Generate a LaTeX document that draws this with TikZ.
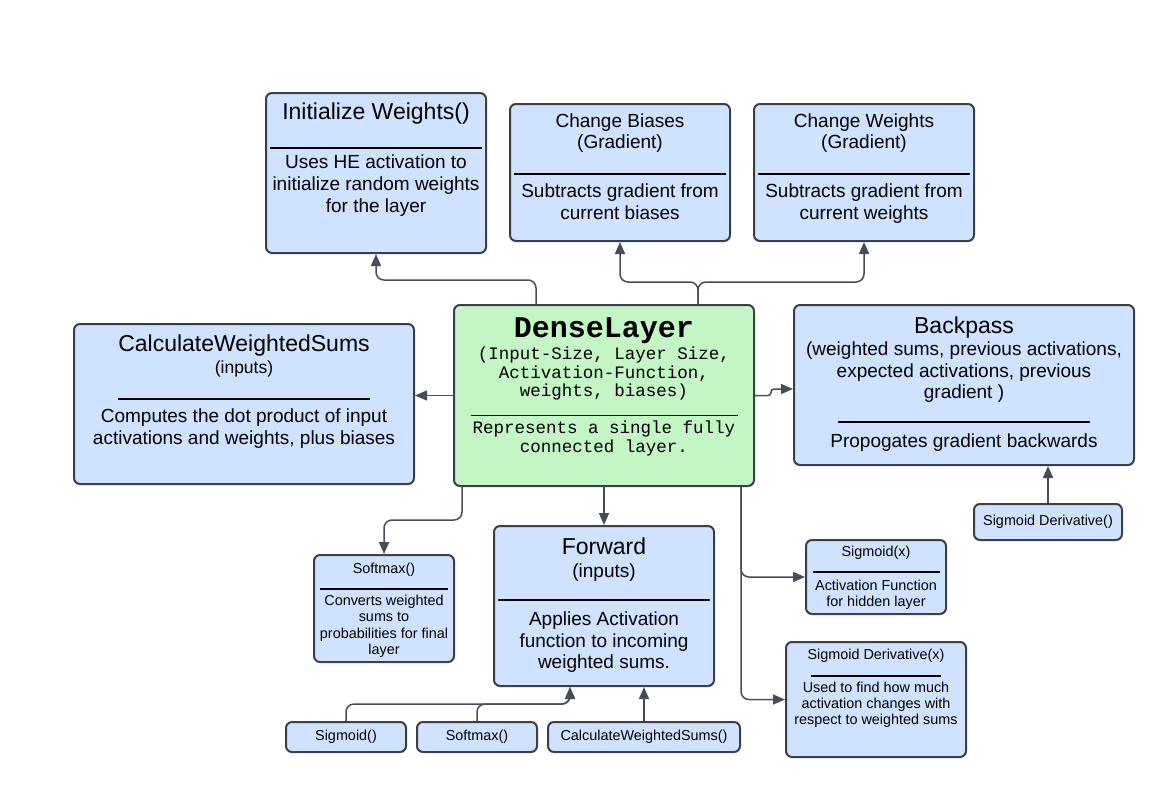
\documentclass[tikz,border=0pt]{standalone}
\usepackage{fontspec}
\setmainfont{Liberation Sans}
\setmonofont{Liberation Mono}
\usetikzlibrary{arrows.meta}
\definecolor{boxblue}{HTML}{CFE2FF}
\definecolor{boxgreen}{HTML}{C3F5C5}
\definecolor{edge}{HTML}{3B4048}
\definecolor{wire}{HTML}{474D57}
\newcommand{\cellbox}[3]{\parbox[c][#2pt][t]{#1pt}{\centering #3\par}}
\newcommand{\sepline}[1]{\rule{#1pt}{2pt}}
\newcommand{\bigtxt}{\fontsize{23}{27}\selectfont}
\newcommand{\smalltxt}{\fontsize{14.4}{16}\selectfont}
\tikzset{
    box/.style={draw=edge, line width=2pt, fill=boxblue, rounded corners=6pt, inner sep=0pt, font=\fontsize{19}{22}\selectfont},
    smallbox/.style={box, font=\smalltxt, minimum height=30pt},
    link/.style={draw=wire, line width=1.5pt, rounded corners=8pt, -{Triangle[length=12pt,width=10pt]}}
}
\begin{document}
\begin{tikzpicture}[x=1pt, y=-1pt]
        \useasboundingbox (0,0) rectangle (1175,804);
        \node[box] (initw) at (376,173) {\cellbox{220}{160}{\vspace*{10pt}{\bigtxt Initialize Weights()}\\[7pt]\sepline{212}\\[-2pt]Uses HE activation to\\initialize random weights\\for the layer}};
        \node[box] (chb) at (620,172.5) {\cellbox{220}{137}{\vspace*{9.4pt}Change Biases\\[-1pt](Gradient)\\[5pt]\sepline{212}\\Subtracts gradient from\\current biases}};
        \node[box] (chw) at (864,172.5) {\cellbox{220}{137}{\vspace*{9.4pt}Change Weights\\[-1pt](Gradient)\\[5pt]\sepline{212}\\Subtracts gradient from\\current weights}};
        \node[box, fill=boxgreen] (dense) at (604,395.5) {\cellbox{300}{181}{\ttfamily\fontsize{17.5}{19}\selectfont\vspace*{12.5pt}{\fontsize{30}{19}\selectfont\bfseries DenseLayer}\\[3pt](Input-Size, Layer Size,\\Activation-Function,\\[-1pt]weights, biases)\\[0.5pt]\rule{267pt}{0.8pt}\\[-1.5pt]Represents a single fully\\connected layer.}};
        \node[box] (calc) at (244,404) {\cellbox{340}{160}{\vspace*{10.5pt}{\bigtxt CalculateWeightedSums}\\{\fontsize{17.5}{22}\selectfont (inputs)}\\[5pt]\sepline{252}\\Computes the dot product of input\\activations and weights, plus biases}};
        \node[box] (backpass) at (964,385) {\cellbox{340}{160}{\vspace*{11.5pt}{\bigtxt Backpass}\\(weighted sums, previous activations,\\expected activations, previous\\[-1pt]gradient )\\[3pt]\sepline{252}\\[2pt]Propogates gradient backwards}};
        \node[box] (forward) at (604,606) {\cellbox{220}{160}{\vspace*{11.5pt}{\bigtxt Forward}\\[1pt](inputs)\\[2pt]\sepline{212}\\[2pt]Applies Activation\\function to incoming\\[-1pt]weighted sums.}};
        \node[box] (soft) at (384,608.5) {\cellbox{140}{107}{\smalltxt\vspace*{8.5pt}Softmax()\\\sepline{128}\\Converts weighted\\sums to\\[1pt]probabilities for final\\layer}};
        \node[box] (sigx) at (876,577) {\cellbox{140}{74}{\smalltxt\vspace*{6.5pt}Sigmoid(x)\\\sepline{127}\\[2pt]Activation Function\\for hidden layer}};
        \node[box] (sigdx) at (876,699.5) {\cellbox{180}{115}{\smalltxt\vspace*{7.5pt}Sigmoid Derivative(x)\\[1pt]\sepline{130}\\Used to find how much\\activation changes with\\respect to weighted sums}};
        \node[smallbox, minimum width=148pt, minimum height=36pt] (sigd) at (1048,522) {Sigmoid Derivative()};
        \node[smallbox, minimum width=120pt] (sig0) at (346,737) {Sigmoid()};
        \node[smallbox, minimum width=120pt] (soft0) at (477,737) {Softmax()};
        \node[smallbox, minimum width=192pt] (cws0) at (644,737) {CalculateWeightedSums()};
        \coordinate (upL) at (536,280);
        \coordinate (upR) at (698,282);
        \coordinate (bpj) at (771,395.5);
        \coordinate (dnL) at (462,520);
        \coordinate (dnR) at (741,0);
        \coordinate (upF) at (570,704);
        \draw[link] (dense.north -| upL) -- (upL) -| (initw.south);
        \draw[link] (dense.north -| upR) -- (upR) -| (chb.south);
        \draw[link] (dense.north -| upR) -- (upR) -| (chw.south);
        \draw[link] (dense.west) -- (dense.west -| calc.east);
        \draw[link, rounded corners=3pt] (dense.east) -- (bpj) |- ([yshift=-4pt]backpass.west);
        \draw[link] (dense.south -| dnL) -- (dnL) -| (soft.north);
        \draw[link] (dense.south) -- (forward.north);
        \draw[link] (dense.south -| dnR) |- (sigx.west);
        \draw[link] (dense.south -| dnR) |- (sigdx.west);
        \draw[link] (sigd.north) -- (sigd.north |- backpass.south);
        \draw[link] (sig0.north) |- (upF) -- (upF |- forward.south);
        \draw[link] (soft0.north) |- (upF) -- (upF |- forward.south);
        \draw[link] (cws0.north) -- (cws0.north |- forward.south);
\end{tikzpicture}
\end{document}
